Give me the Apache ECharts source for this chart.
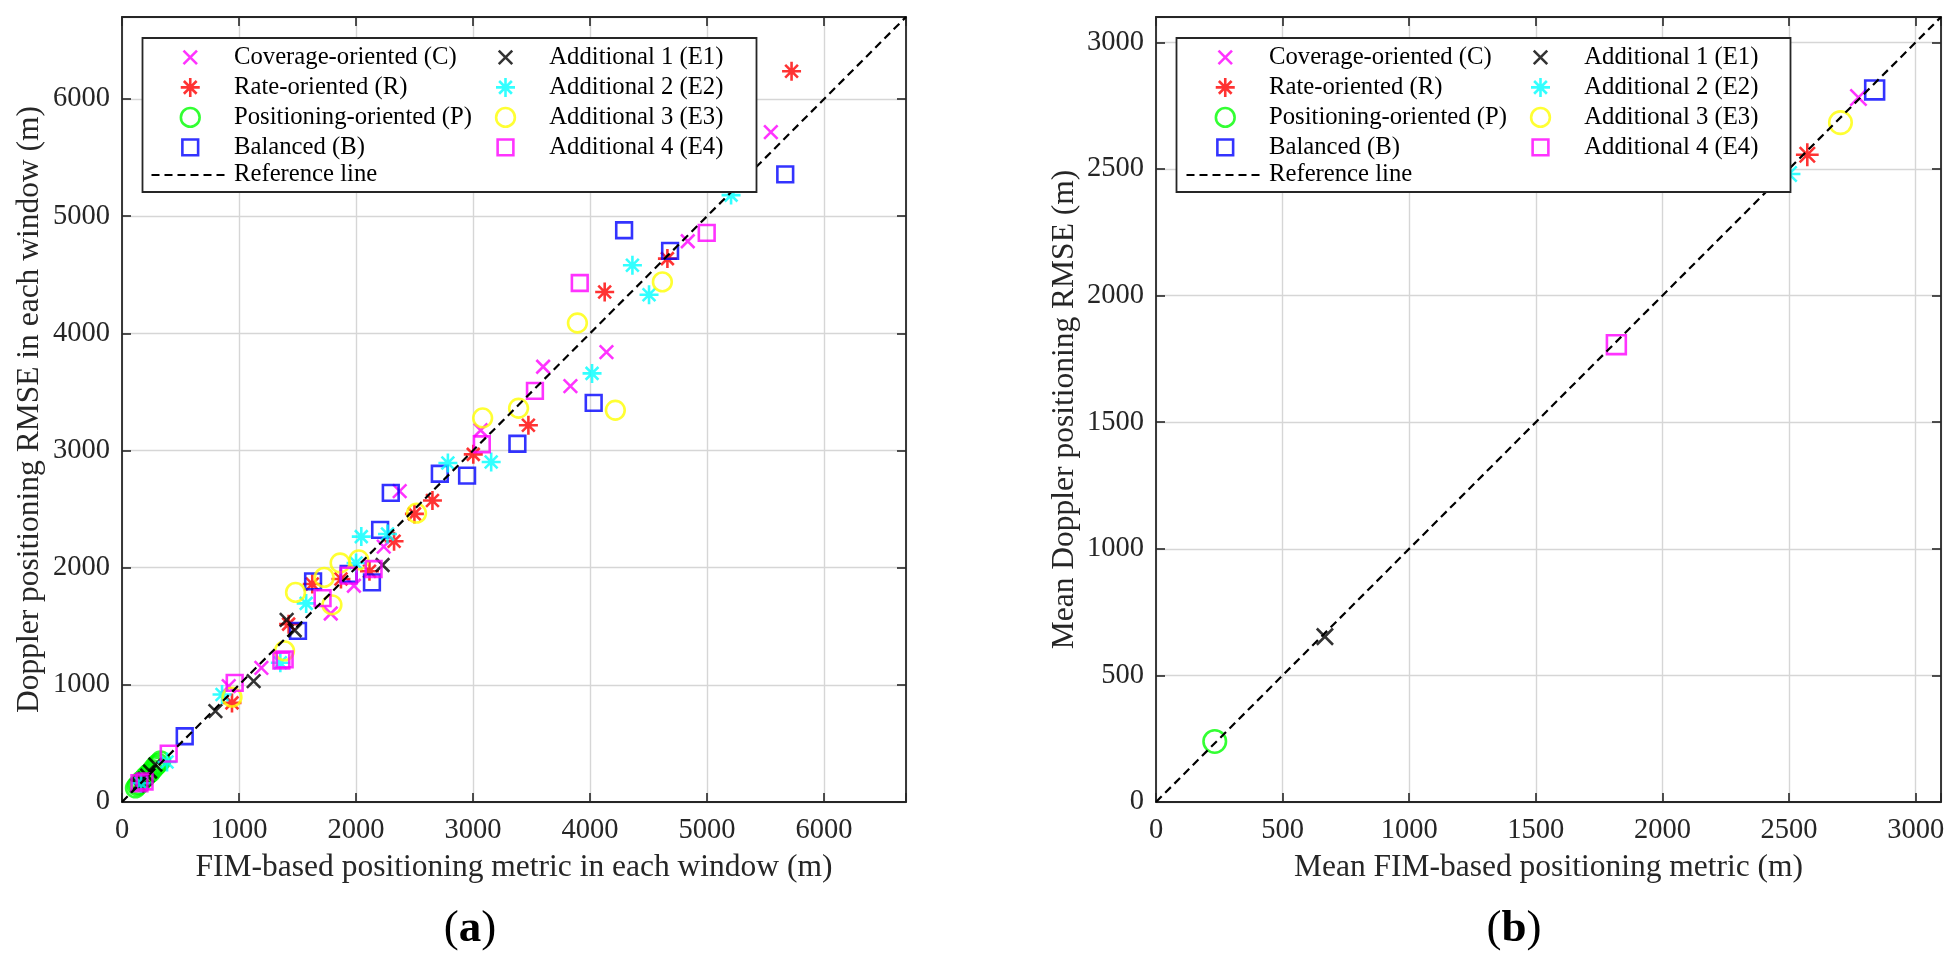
<!DOCTYPE html>
<html>
<head>
<meta charset="utf-8">
<script src="https://cdn.jsdelivr.net/npm/echarts/dist/echarts.min.js"></script>
<style>
html,body{margin:0;padding:0;background:#fff;}
#chart{width:1954px;height:968px;}
</style>
</head>
<body>
<div id="chart"></div>
<script>
// ---------- data ----------
const seriesNames = ['Coverage-oriented (C)','Rate-oriented (R)','Positioning-oriented (P)','Balanced (B)',
  'Additional 1 (E1)','Additional 2 (E2)','Additional 3 (E3)','Additional 4 (E4)'];
const refName = 'Reference line';

// (a) per-window values [FIM metric, Doppler RMSE]
const cWin = [[4140,3840],[3599,3715],[3832,3549],[3065,3173],[2373,2653],[2237,2180],[1982,1846],[1784,1609],[1191,1145],[912,989],[5545,5717],[4835,4786],[170,160]];
const rWin = [[5722,6237],[4661,4638],[4125,4353],[3473,3215],[3002,2967],[2653,2573],[2499,2459],[2325,2225],[2115,1969],[1871,1903],[1626,1860],[1424,1518],[940,846],[210,205]];
const pWin = [[115,120],[130,140],[145,150],[160,175],[180,190],[200,215],[220,235],[240,250],[260,275],[280,300],[295,315],[310,330],[330,350]];
const bWin = [[5668,5357],[4684,4704],[4291,4880],[4031,3407],[3379,3058],[2716,2802],[2949,2785],[2297,2639],[2206,2322],[2136,1874],[1937,1946],[1633,1883],[1504,1461],[536,561]];
const e1Win = [[2227,2023],[1407,1555],[1476,1466],[1125,1031],[798,775],[285,320],[240,260],[215,225],[195,200],[175,185],[160,165],[145,150],[130,140]];
const e2Win = [[5205,5180],[4362,4581],[4504,4330],[4017,3658],[3155,2902],[2785,2893],[2269,2288],[2045,2265],[2000,2040],[1574,1695],[1353,1188],[855,917],[385,342],[163,160]];
const e3Win = [[4618,4439],[3892,4088],[4216,3344],[3389,3361],[3082,3278],[2517,2465],[1864,2040],[2024,2066],[1728,1917],[1483,1789],[1794,1683],[1389,1290],[940,895]];
const e4Win = [[4997,4858],[3912,4430],[3529,3509],[3075,3053],[2150,1989],[1937,1932],[1714,1740],[1362,1208],[1390,1217],[963,1017],[399,413],[149,160],[193,175]];

// (b) mean values [mean FIM metric, mean Doppler RMSE]
const cMean = [[2774,2782]];
const rMean = [[2572,2556]];
const pMean = [[232,239]];
const bMean = [[2838,2812]];
const e1Mean = [[667,653]];
const e2Mean = [[2500,2480]];
const e3Mean = [[2703,2683]];
const e4Mean = [[1818,1806]];

const refA = [[0,0],[6700,6700]];
const refB = [[0,0],[3100,3100]];

const axisA = {max: 6700, interval: 1000};
const axisB = {max: 3100, interval: 500};

const labelsA = {x: 'FIM-based positioning metric in each window (m)', y: 'Doppler positioning RMSE in each window (m)'};
const labelsB = {x: 'Mean FIM-based positioning metric (m)', y: 'Mean Doppler positioning RMSE (m)'};

// ---------- styling ----------
const colors = ['#ff00ff','#ff0000','#00ff00','#0000ff','#000000','#00ffff','#ffff00','#ff00ff'];
const PAD = 'M0,0M20,20';
const SYM = {
  x: 'path://' + PAD + 'M4.6,4.6L15.4,15.4M15.4,4.6L4.6,15.4',
  ast: 'path://' + PAD + 'M10,2.4L10,17.6M2.4,10L17.6,10M4.9,4.9L15.1,15.1M15.1,4.9L4.9,15.1',
  circ: 'path://' + PAD + 'M2.5,10A7.5,7.5,0,1,1,17.5,10A7.5,7.5,0,1,1,2.5,10Z',
  sq: 'path://' + PAD + 'M3.7,3.7L16.3,3.7L16.3,16.3L3.7,16.3Z'
};
const symbols = [SYM.x, SYM.ast, SYM.circ, SYM.sq, SYM.x, SYM.ast, SYM.circ, SYM.sq];
const FONT = 'Liberation Serif, Times New Roman, serif';
const AX = '#262626';

const winData = [cWin, rWin, pWin, bWin, e1Win, e2Win, e3Win, e4Win];
const meanData = [cMean, rMean, pMean, bMean, e1Mean, e2Mean, e3Mean, e4Mean];

function scatter(i, data, xi, yi, size){
  return {
    type: 'scatter', name: seriesNames[i], xAxisIndex: xi, yAxisIndex: yi,
    data: data, symbol: symbols[i], symbolSize: size, silent: true,
    itemStyle: {color: 'none', borderColor: colors[i], borderWidth: 2.6},
    emphasis: {disabled: true}, z: 2
  };
}
function refLine(data, xi, yi){
  return {
    type: 'line', name: refName, xAxisIndex: xi, yAxisIndex: yi, data: data,
    symbol: 'none', showSymbol: false, silent: true, z: 3,
    lineStyle: {color: '#000', width: 2.2, type: [8,5]},
    itemStyle: {color: '#000'}, emphasis: {disabled: true}
  };
}
function xAx(grid, cfg, name, pos){
  const main = pos === 'bottom';
  return {
    type: 'value', gridIndex: grid, position: pos, min: 0, max: cfg.max, interval: cfg.interval,
    name: main ? name : '', nameLocation: 'middle', nameGap: 50,
    nameTextStyle: {fontFamily: FONT, fontSize: 31.5, color: AX},
    axisLine: {show: true, onZero: false, lineStyle: {color: AX, width: 1.8}},
    axisTick: {show: true, inside: true, length: 9, lineStyle: {color: AX, width: 1.6}},
    axisLabel: {show: main, fontFamily: FONT, fontSize: 28.5, color: AX, margin: 14,
      formatter: v => (v % cfg.interval === 0 ? String(v) : '')},
    splitLine: {show: main, lineStyle: {color: '#d6d6d6', width: 1.4}}
  };
}
function yAx(grid, cfg, name, pos, gap){
  const main = pos === 'left';
  return {
    type: 'value', gridIndex: grid, position: pos, min: 0, max: cfg.max, interval: cfg.interval,
    name: main ? name : '', nameLocation: 'middle', nameGap: gap,
    nameTextStyle: {fontFamily: FONT, fontSize: 31.5, color: AX},
    axisLine: {show: true, onZero: false, lineStyle: {color: AX, width: 1.8}},
    axisTick: {show: true, inside: true, length: 9, lineStyle: {color: AX, width: 1.6}},
    axisLabel: {show: main, fontFamily: FONT, fontSize: 28.5, color: AX, margin: 12,
      formatter: v => (v % cfg.interval === 0 ? String(v) : '')},
    splitLine: {show: main, lineStyle: {color: '#d6d6d6', width: 1.4}}
  };
}
function legend(names, left){
  return {
    data: names.map(n => n === refName ? {name: n, itemStyle: {opacity: 0}} : n),
    left: left, top: 42.4, orient: 'vertical', padding: 0,
    itemWidth: 77.5, itemHeight: 25, itemGap: 0, selectedMode: false,
    itemStyle: {borderWidth: 2.6},
    textStyle: {fontFamily: FONT, fontSize: 24.7, color: '#000'}, z: 5
  };
}

const series = [];
winData.forEach((d, i) => series.push(scatter(i, d, 0, 0, 25)));
series.push(refLine(refA, 0, 0));
meanData.forEach((d, i) => series.push(scatter(i, d, 2, 2, 30)));
series.push(refLine(refB, 2, 2));

const col1 = seriesNames.slice(0, 4).concat([refName]);
const col2 = seriesNames.slice(4);

function panelLabel(letter, x){
  return {type: 'text', x: x, y: 929, z: 5, style: {text: '{n|(}{b|' + letter + '}{n|)}', textAlign: 'center', textVerticalAlign: 'middle',
    rich: {n: {fontFamily: FONT, fontSize: 45, fill: '#000'}, b: {fontFamily: FONT, fontSize: 45, fontWeight: 'bold', fill: '#000'}}}};
}

const option = {
  backgroundColor: '#fff',
  animation: false,
  grid: [
    {left: 122, top: 17, width: 784, height: 785, outerBoundsMode: 'none'},
    {left: 1156, top: 17, width: 785, height: 785, outerBoundsMode: 'none'}
  ],
  xAxis: [xAx(0, axisA, labelsA.x, 'bottom'), xAx(0, axisA, '', 'top'),
          xAx(1, axisB, labelsB.x, 'bottom'), xAx(1, axisB, '', 'top')],
  yAxis: [yAx(0, axisA, labelsA.y, 'left', 76), yAx(0, axisA, '', 'right', 0),
          yAx(1, axisB, labelsB.y, 'left', 75), yAx(1, axisB, '', 'right', 0)],
  legend: [legend(col1, 150.5), legend(col2, 490.5), legend(col1, 1185.5), legend(col2, 1525.5)],
  graphic: [
    {type: 'rect', shape: {x: 142.5, y: 38, width: 614, height: 154}, z: 4,
     style: {fill: '#fff', stroke: AX, lineWidth: 1.8}},
    {type: 'rect', shape: {x: 1176.5, y: 38, width: 614, height: 154}, z: 4,
     style: {fill: '#fff', stroke: AX, lineWidth: 1.8}},
    panelLabel('a', 470),
    panelLabel('b', 1514)
  ],
  series: series
};

const chart = echarts.init(document.getElementById('chart'), null, {renderer: 'canvas', width: 1954, height: 968});
chart.setOption(option);
</script>
</body>
</html>
